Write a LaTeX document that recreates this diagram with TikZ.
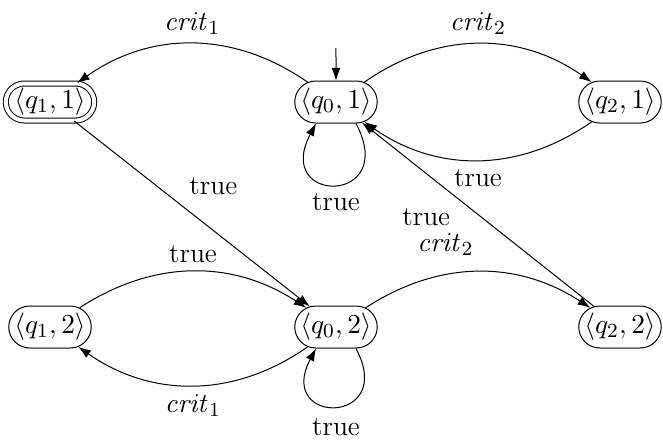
\documentclass[tikz,border=0pt]{standalone}
\usetikzlibrary{shapes.misc,arrows.meta}
\begin{document}
\begin{tikzpicture}[x=0.4pt,y=-0.4pt,
  font=\fontsize{11}{13}\selectfont,
  >={Latex[length=5pt,width=3.6pt]},
  state/.style={draw,rounded rectangle,minimum height=16.8pt,minimum width=35pt,inner sep=1pt},
  accept/.style={state,double,double distance=1.6pt,minimum height=14.8pt,minimum width=33pt},
  lbl/.style={inner sep=3.5pt}]
\useasboundingbox (0,0) rectangle (663,441);
\node[accept] (q11) at (50,102) {$\langle q_1,1\rangle$};
\node[state] (q01) at (336,102) {$\langle q_0,1\rangle$};
\node[state] (q21) at (620,102) {$\langle q_2,1\rangle$};
\node[state] (q12) at (50,327) {$\langle q_1,2\rangle$};
\node[state] (q02) at (336,327) {$\langle q_0,2\rangle$};
\node[state] (q22) at (620,327) {$\langle q_2,2\rangle$};
\coordinate (init) at (336,48);
\draw[->] (init) -- (q01);
% top row
\draw[->] (q01) to[bend right=35] node[lbl,above] {$\mathit{crit}_1$} (q11);
\draw[->] (q01) to[bend left=35] node[lbl,above] {$\mathit{crit}_2$} (q21);
\draw[->] (q21) to[bend left=35] node[lbl,below] {true} (q01);
\draw[->] ([xshift=8pt]q01.south) .. controls +(-62:37pt) and +(-118:37pt) .. ([xshift=-8pt]q01.south)
  node[lbl,pos=0.5,below] {true};
% diagonals
\draw[->] (q11) -- node[lbl,pos=0.45,above right] {true} (q02);
\draw[->] (q22) -- node[lbl,pos=0.58,below left] {true} (q01);
% bottom row
\draw[->] (q12) to[bend left=33] node[lbl,above] {true} (q02);
\draw[->] (q02) to[bend left=35] node[lbl,below] {$\mathit{crit}_1$} (q12);
\draw[->] (q02) to[bend left=33] node[lbl,midway,above=3pt,xshift=-13pt] {$\mathit{crit}_2$} (q22);
\draw[->] ([xshift=8pt]q02.south) .. controls +(-62:35pt) and +(-118:35pt) .. ([xshift=-8pt]q02.south)
  node[lbl,pos=0.5,below,yshift=-1pt] {true};
\end{tikzpicture}
\end{document}
